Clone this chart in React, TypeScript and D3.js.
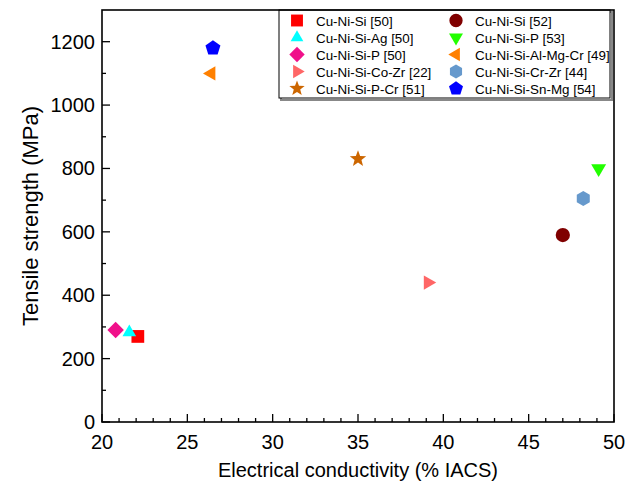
import React from "react";
import * as d3 from "d3";

const seriesNames = [
  "Cu-Ni-Si [50]",
  "Cu-Ni-Si-Ag [50]",
  "Cu-Ni-Si-P [50]",
  "Cu-Ni-Si-Co-Zr [22]",
  "Cu-Ni-Si-P-Cr [51]",
  "Cu-Ni-Si [52]",
  "Cu-Ni-Si-P [53]",
  "Cu-Ni-Si-Al-Mg-Cr [49]",
  "Cu-Ni-Si-Cr-Zr [44]",
  "Cu-Ni-Si-Sn-Mg [54]",
];
const conductivity = [22.1, 21.6, 20.8, 39.1, 35.0, 47.0, 49.1, 26.4, 48.2, 26.5];
const strength = [270, 283, 290, 440, 830, 590, 800, 1100, 705, 1180];
const shapes = ["square", "triangleUp", "diamond", "triangleRight", "star", "circle", "triangleDown", "triangleLeft", "hexagon", "pentagon"];
const colors = ["#FF0000", "#00FFFF", "#F0108A", "#FF6666", "#CC6600", "#800000", "#22FF00", "#FF8000", "#6699CC", "#0000FF"];

const xTicks = [20, 25, 30, 35, 40, 45, 50];
const yTicks = [0, 200, 400, 600, 800, 1000, 1200];

const W = 628, H = 492;
const L = 102, R = 614, T = 10, B = 422;

function poly(n: number, r: number, rot: number) {
  const pts: [number, number][] = [];
  for (let i = 0; i < n; i++) {
    const a = rot + (i * 2 * Math.PI) / n;
    pts.push([r * Math.cos(a), r * Math.sin(a)]);
  }
  return "M" + pts.map((p) => p[0].toFixed(2) + "," + p[1].toFixed(2)).join("L") + "Z";
}

function starPath(r: number) {
  const pts: [number, number][] = [];
  const ri = r * 0.42;
  for (let i = 0; i < 10; i++) {
    const a = -Math.PI / 2 + (i * Math.PI) / 5;
    const rr = i % 2 === 0 ? r : ri;
    pts.push([rr * Math.cos(a), rr * Math.sin(a)]);
  }
  return "M" + pts.map((p) => p[0].toFixed(2) + "," + p[1].toFixed(2)).join("L") + "Z";
}

function markerPath(shape: string, s: number) {
  switch (shape) {
    case "square":
      return `M${-s * 0.85},${-s * 0.85}H${s * 0.85}V${s * 0.85}H${-s * 0.85}Z`;
    case "circle":
      return d3.symbol(d3.symbolCircle, Math.PI * (s * 0.95) * (s * 0.95))() as string;
    case "diamond":
      return poly(4, s * 1.1, -Math.PI / 2);
    case "triangleUp":
      return poly(3, s * 1.05, -Math.PI / 2);
    case "triangleDown":
      return poly(3, s * 1.15, Math.PI / 2);
    case "triangleLeft":
      return poly(3, s * 1.1, Math.PI);
    case "triangleRight":
      return poly(3, s * 1.1, 0);
    case "hexagon":
      return poly(6, s * 1.0, -Math.PI / 2);
    case "pentagon":
      return poly(5, s * 1.05, -Math.PI / 2);
    case "star":
      return starPath(s * 1.15);
  }
  return "";
}

export default function App() {
  const x = d3.scaleLinear().domain([20, 50]).range([L, R]);
  const y = d3.scaleLinear().domain([0, 1300]).range([B, T]);
  const xMinor = d3.range(20, 51, 1).filter((v) => v % 5 !== 0);
  const yMinor = d3.range(100, 1300, 200);
  const font = "'Liberation Sans', Arial, sans-serif";

  const legendX = [297, 456];
  const legendTextX = [316, 475];
  const legendY = (i: number) => 20.5 + i * 17;

  return (
    <svg width={W} height={H} style={{ position: "absolute", left: 0, top: 0, background: "#fff" }} fontFamily={font}>
      <rect x={0} y={0} width={W} height={H} fill="#fff" />
      {/* ticks */}
      {xTicks.map((v) => (
        <g key={"xt" + v}>
          <line x1={x(v)} x2={x(v)} y1={B} y2={B - 8} stroke="#000" strokeWidth={1.3} />
          <text x={x(v)} y={B + 27} fontSize={20} textAnchor="middle" fill="#000">{v}</text>
        </g>
      ))}
      {xMinor.map((v) => (
        <line key={"xm" + v} x1={x(v)} x2={x(v)} y1={B} y2={B - 4} stroke="#000" strokeWidth={1.3} />
      ))}
      {yTicks.map((v) => (
        <g key={"yt" + v}>
          <line x1={L} x2={L + 8} y1={y(v)} y2={y(v)} stroke="#000" strokeWidth={1.3} />
          <text x={L - 7} y={y(v) + 7} fontSize={20} textAnchor="end" fill="#000">{v}</text>
        </g>
      ))}
      {yMinor.map((v) => (
        <line key={"ym" + v} x1={L} x2={L + 4} y1={y(v)} y2={y(v)} stroke="#000" strokeWidth={1.3} />
      ))}
      {/* data */}
      {conductivity.map((c, i) => (
        <path key={"p" + i} d={markerPath(shapes[i], 7.5)} transform={`translate(${x(c)},${y(strength[i])})`} fill={colors[i]} />
      ))}
      {/* legend */}
      <rect x={281} y={T + 2} width={R - 283} height={88} fill="none" stroke="#888" strokeWidth={2} />
      <rect x={279} y={T} width={R - 283} height={88} fill="#fff" stroke="#000" strokeWidth={1} />
      {seriesNames.map((n, i) => {
        const col = i < 5 ? 0 : 1;
        const row = i % 5;
        return (
          <g key={"lg" + i}>
            <path d={markerPath(shapes[i], 7)} transform={`translate(${legendX[col]},${legendY(row)})`} fill={colors[i]} />
            <text x={legendTextX[col]} y={legendY(row) + 5} fontSize={13.4} fill="#000">{n}</text>
          </g>
        );
      })}
      {/* frame */}
      <rect x={L} y={T} width={R - L} height={B - T} fill="none" stroke="#000" strokeWidth={1.6} />
      {/* titles */}
      <text x={(L + R) / 2} y={477} fontSize={20} textAnchor="middle" fill="#000">Electrical conductivity (% IACS)</text>
      <text transform={`translate(38,${(T + B) / 2}) rotate(-90)`} fontSize={22} textAnchor="middle" fill="#000">Tensile strength (MPa)</text>
    </svg>
  );
}
